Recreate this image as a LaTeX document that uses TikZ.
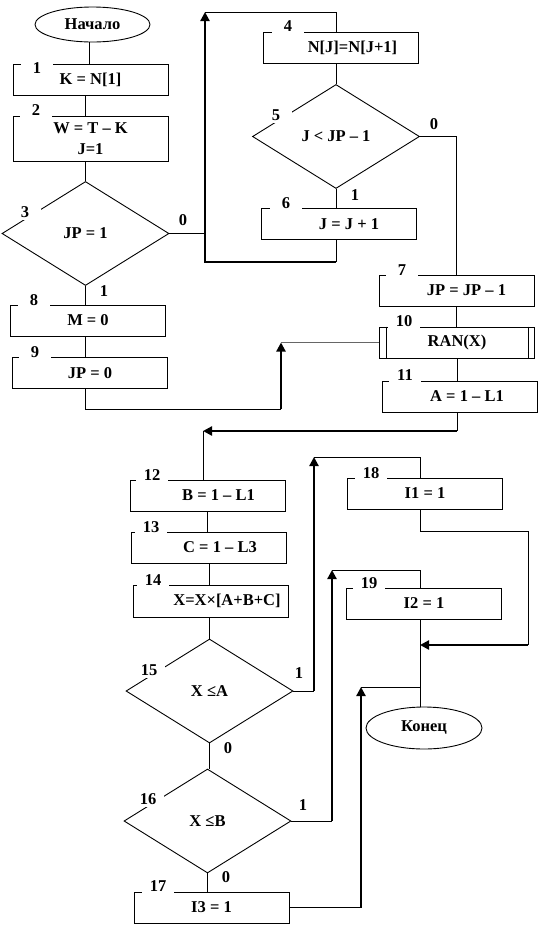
\documentclass[tikz,border=0pt]{standalone}
\usepackage{fontspec}
\setmainfont{Liberation Serif}
\usetikzlibrary{arrows.meta,shapes.geometric}

\begin{document}
\begin{tikzpicture}[
  x=1pt,
  y=-1pt,
  font=\bfseries\fontsize{16.5}{21}\selectfont,
  >={Triangle[length=9pt,width=9pt]},
  box/.style={draw, line width=0.9pt, minimum width=155pt, minimum height=31pt, inner sep=0pt, align=center},
  cond/.style={draw, diamond, line width=0.9pt, minimum width=167pt, minimum height=104pt, inner sep=0pt},
  term/.style={draw, ellipse, line width=0.9pt, inner sep=0pt},
  num/.style={fill=white, minimum width=32pt, minimum height=16pt, inner sep=0pt},
  bit/.style={inner sep=1pt},
  flow/.style={line width=0.9pt},
  back/.style={->, line width=2.2pt}
]
  \useasboundingbox[fill=white] (0,0) rectangle (540,927);

  \node[term, minimum width=115pt, minimum height=35pt] (start) at (92.5,24.5) {Начало};
  \node[box] (b1) at (90.5,79.5) {K = N[1]};
  \node[box, minimum height=45pt] (b2) at (90.5,138.5) {W = T – K\\J=1};
  \node[cond] (d3) at (85.5,233.5) {JP = 1};
  \node[box] (b4) at (340.5,47.5) {\hspace*{24pt}N[J]=N[J+1]};
  \node[cond] (d5) at (336,136.5) {J < JP – 1};
  \node[box] (b6) at (339,224) {\hspace*{20pt}J = J + 1};
  \node[box] (b8) at (88,320.5) {M = 0};
  \node[box] (b9) at (90,373) {JP = 0};
  \node[box] (b7) at (456.5,290.5) {\hspace*{20pt}JP = JP – 1};
  \node[box] (b10) at (457,342.5) {RAN(X)};
  \node[box] (b11) at (460,396.5) {\hspace*{14pt}A = 1 – L1};
  \node[box] (b12) at (207.5,495.5) {\hspace*{22pt}B = 1 – L1};
  \node[box] (b13) at (209,547.5) {\hspace*{22pt}C = 1 – L3};
  \node[box, minimum height=32pt] (b14) at (211,601) {\hspace*{32pt}X=X×[A+B+C]};
  \node[cond] (d15) at (209.5,691) {X ≤A};
  \node[cond] (d16) at (207.5,821) {X ≤B};
  \node[box] (b17) at (211.5,907.5) {I3 = 1};
  \node[box] (b18) at (425,493.5) {I1 = 1};
  \node[box] (b19) at (424,603.5) {I2 = 1};
  \node[term, minimum width=116pt, minimum height=42pt] (stop) at (424,728) {Конец};

  \draw[flow] ([xshift=7pt]b10.north west) -- ([xshift=7pt]b10.south west);
  \draw[flow] ([xshift=-7pt]b10.north east) -- ([xshift=-7pt]b10.south east);

  \coordinate (col) at (420,0);
  \coordinate (j1) at (281,342.5);
  \coordinate (j2) at (281,409);
  \coordinate (l1) at (205,262);
  \coordinate (l2) at (205,12);
  \coordinate (r1) at (457,431);
  \coordinate (r2) at (203,431);
  \coordinate (u1) at (314,691);
  \coordinate (u2) at (314,457);
  \coordinate (s1) at (528,531);
  \coordinate (s2) at (528,645);
  \coordinate (v1) at (332,821);
  \coordinate (v2) at (332,570);
  \coordinate (w1) at (361,907.5);
  \coordinate (w2) at (361,687);

  \draw[flow] ([xshift=-3pt]start.south) -- ([xshift=-3pt]start.south |- b1.north);
  \draw[flow] (d3.north |- b1.south) -- (d3.north |- b2.north);
  \draw[flow] (d3.north |- b2.south) -- (d3.north);
  \draw[flow] (d3.south) -- (d3.south |- b8.north);
  \draw[flow] (d3.south |- b8.south) -- (d3.south |- b9.north);
  \draw[flow] (d3.south |- b9.south) |- (j2);
  \draw[back] (j2) -- (j1);
  \draw[flow, draw=black!60] (b10.west) -- (j1);

  \draw[flow] (d3.east) -- (d3.east -| l1);
  \draw[flow] (d5.south |- b6.south) -- (d5.south |- l1);
  \draw[back] (d5.south |- l1) -- (l1) -- (l2);
  \draw[flow] (l2) -| (d5.north |- b4.north);
  \draw[flow] (d5.north |- b4.south) -- (d5.north);
  \draw[flow] (d5.south) -- (d5.south |- b6.north);
  \draw[flow] (d5.east) -| (b7.north);
  \draw[flow] (b7.south) -- (b7.south |- b10.north);
  \draw[flow] (b10.south) -- (b10.south |- b11.north);
  \draw[flow] (r1 |- b11.south) -- (r1);
  \draw[back] (r1) -- (r2);
  \draw[flow] (r2) -- (r2 |- b12.north);

  \draw[flow] (b12.south) -- (b12.south |- b13.north);
  \draw[flow] (b13.south) -- (b13.south |- b14.north);
  \draw[flow] (d15.north |- b14.south) -- (d15.north);
  \draw[flow] (d15.south) -- (d15.south |- d16.north);
  \draw[flow] (d16.south) -- (d16.south |- b17.north);

  \draw[flow] (d15.east) -- (u1);
  \draw[back] (u1) -- (u2);
  \draw[flow] (u2) -- (u2 -| col) -- (b18.north -| col);
  \draw[flow] (b18.south -| col) |- (s1) -- (s2);
  \draw[back] (s2) -- (s2 -| col);
  \draw[flow] (d16.east) -- (v1);
  \draw[back] (v1) -- (v2);
  \draw[flow] (v2) -- (v2 -| col) -- (b19.north -| col);
  \draw[flow] (b19.south -| col) -- (stop.north -| col);
  \draw[flow] (b17.east) -- (w1);
  \draw[back] (w1) -- (w2);
  \draw[flow] (w2) -- (w2 -| col);

  \node[bit] (o3) at (183,220) {0};
  \node[bit] (i3) at (104,291) {1};
  \node[bit] (o5) at (434,124) {0};
  \node[bit] (i5) at (355,195) {1};
  \node[bit] (i15) at (299,673) {1};
  \node[bit] (o15) at (228,748) {0};
  \node[bit] (i16) at (303,805) {1};
  \node[bit] (o16) at (226,877) {0};

  \node[num] (k1) at (37,68) {1};
  \node[num] (k2) at (36,110) {2};
  \node[num] (k3) at (25,212) {3};
  \node[num] (k4) at (288,26) {4};
  \node[num] (k5) at (276,115) {5};
  \node[num] (k6) at (286,203) {6};
  \node[num] (k7) at (402,270) {7};
  \node[num] (k8) at (34,300) {8};
  \node[num] (k9) at (35,352) {9};
  \node[num] (k10) at (404,321) {10};
  \node[num] (k11) at (405,375) {11};
  \node[num] (k12) at (152,475) {12};
  \node[num] (k13) at (151,527) {13};
  \node[num] (k14) at (153,580) {14};
  \node[num] (k15) at (149,670) {15};
  \node[num] (k16) at (148,799) {16};
  \node[num] (k17) at (158,886) {17};
  \node[num] (k18) at (371,473) {18};
  \node[num] (k19) at (369,583) {19};
\end{tikzpicture}
\end{document}
